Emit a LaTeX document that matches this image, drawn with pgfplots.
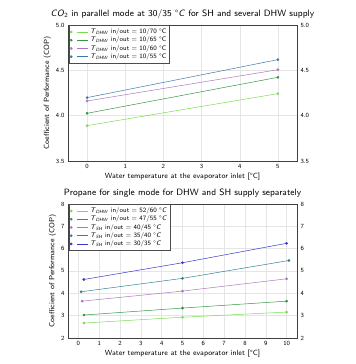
\documentclass[border=0pt]{standalone}
\usepackage{pgfplots}
\pgfplotsset{compat=1.18}
\definecolor{cA}{RGB}{120,220,80}
\definecolor{cB}{RGB}{50,150,70}
\definecolor{cC}{RGB}{170,120,190}
\definecolor{cD}{RGB}{60,120,165}
\definecolor{cE}{RGB}{50,130,150}
\definecolor{cF}{RGB}{55,55,205}
\newcommand{\Td}{\textit{T}\textsubscript{\textit{DHW}}}
\newcommand{\Ts}{\textit{T}\textsubscript{\textit{SH}}}
\pgfplotsset{
  base/.style={
    scale only axis,
    width=229bp,
    font=\sffamily,
    axis line style={black!75},
    tick style={draw=none},
    ticklabel style={font=\sffamily\fontsize{6.3}{7}\selectfont},
    /pgf/number format/assume math mode=true,
  },
  common/.style={
    base,
    grid=major,
    grid style={black!10},
    ytick pos=both,
    yticklabel pos=left,
    label style={font=\sffamily\fontsize{7.5}{8.5}\selectfont},
    title style={font=\sffamily\fontsize{9.2}{10}\selectfont, yshift=-3pt},
    xlabel={Water temperature at the evaporator inlet [\textdegree C]},
    ylabel={Coefficient of Performance (COP)},
    xlabel style={yshift=3pt},
    ylabel style={yshift=-2pt},
    legend style={at={(0.003,0.997)}, anchor=north west, font=\sffamily\fontsize{6.6}{7.4}\selectfont,
      draw=black!70, fill=white, inner sep=1.2pt, row sep=-2.2pt, cells={anchor=west}},
    legend image code/.code={\draw[#1,mark=none] (6bp,0cm) -- (17bp,0cm); \draw[#1,only marks] plot coordinates {(0bp,0cm)};},
    every axis plot/.append style={line width=0.5pt, mark=*, mark size=1.1pt},
  },
  rightlab/.style={
    base, axis x line=none, axis y line*=right, yticklabel pos=right,
    axis line style={draw=none},
  }
}
\begin{document}
\begin{tikzpicture}[x=1bp,y=1bp]
\useasboundingbox (0,0) rectangle (356,364);
\begin{axis}[common, at={(68bp,203bp)}, anchor=south west, height=136bp,
  title={\textit{CO}\textsubscript{2} in parallel mode at 30/35 \textdegree\textit{C} for SH and several DHW supply},
  xmin=-0.5, xmax=5.5, ymin=3.5, ymax=5.0,
  xtick={0,1,2,3,4,5}, ytick={3.5,4.0,4.5,5.0},
  yticklabel style={/pgf/number format/.cd,fixed,fixed zerofill,precision=1},
  ]
\addplot[cA, mark options={fill=cA}] coordinates {(0,3.89) (5,4.243)};
\addlegendentry{\Td\ in/out = 10/70 \textdegree C}
\addplot[cB, mark options={fill=cB}] coordinates {(0,4.026) (5,4.423)};
\addlegendentry{\Td\ in/out = 10/65 \textdegree C}
\addplot[cC, mark options={fill=cC}] coordinates {(0,4.162) (5,4.507)};
\addlegendentry{\Td\ in/out = 10/60 \textdegree C}
\addplot[cD, mark options={fill=cD}] coordinates {(0,4.199) (5,4.618)};
\addlegendentry{\Td\ in/out = 10/55 \textdegree C}
\end{axis}
\begin{axis}[rightlab, at={(68bp,203bp)}, anchor=south west, height=136bp,
  xmin=-0.5, xmax=5.5, ymin=3.5, ymax=5.0, ytick={3.5,4.0,4.5,5.0},
  yticklabel style={/pgf/number format/.cd,fixed,fixed zerofill,precision=1}]
\end{axis}
\begin{axis}[common, at={(68bp,26bp)}, anchor=south west, height=134bp,
  title={Propane for single mode for DHW and SH supply separately},
  xmin=-0.5, xmax=10.5, ymin=2, ymax=8,
  xtick={0,1,...,10}, ytick={2,3,...,8},
  ]
\addplot[cA, mark options={fill=cA}] coordinates {(0.27,2.67) (5,2.93) (10,3.16)};
\addlegendentry{\Td\ in/out = 52/60 \textdegree \textit{C}}
\addplot[cB, mark options={fill=cB}] coordinates {(0.27,3.03) (5,3.34) (10,3.65)};
\addlegendentry{\Td\ in/out = 47/55 \textdegree \textit{C}}
\addplot[cC, mark options={fill=cC}] coordinates {(0.18,3.65) (5,4.10) (10,4.65)};
\addlegendentry{\Ts\ in/out = 40/45 \textdegree \textit{C}}
\addplot[cE, mark options={fill=cE}] coordinates {(0.13,4.07) (5,4.67) (10.11,5.47)};
\addlegendentry{\Ts\ in/out = 35/40 \textdegree \textit{C}}
\addplot[cF, mark options={fill=cF}] coordinates {(0.26,4.62) (5,5.37) (10,6.24)};
\addlegendentry{\Ts\ in/out = 30/35 \textdegree \textit{C}}
\end{axis}
\begin{axis}[rightlab, at={(68bp,26bp)}, anchor=south west, height=134bp,
  xmin=-0.5, xmax=10.5, ymin=2, ymax=8, ytick={2,3,...,8}]
\end{axis}
\end{tikzpicture}
\end{document}
